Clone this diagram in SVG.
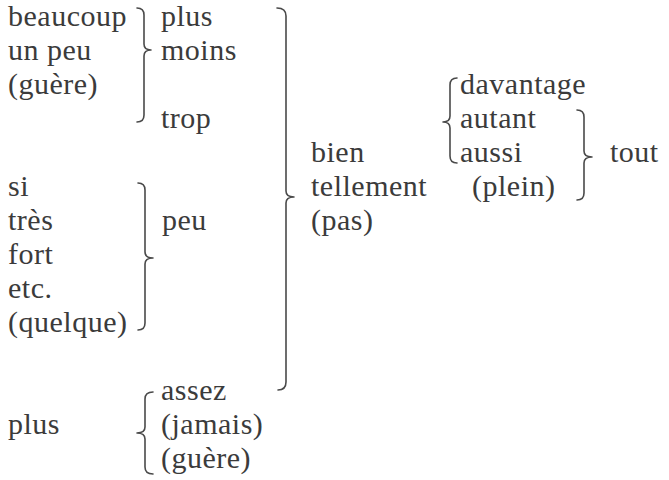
<svg xmlns="http://www.w3.org/2000/svg" width="669" height="480" viewBox="0 0 669 480">
<style>
text{font-size:30px;fill:#3b3b3b;letter-spacing:0.5px}
.br{fill:none;stroke:#4a4a4a;stroke-width:1.6;stroke-linecap:round;stroke-linejoin:round}
</style>
<rect width="669" height="480" fill="#ffffff"/>
<g id="connectors">
<path id="brace1" class="br" d="M137,8 Q144,8 144,15 L144,44 Q144,50 151,50 Q144,50 144,56 L144,115 Q144,122 137,122"/>
<path id="brace2" class="br" d="M138,183 Q145,183 145,190 L145,252 Q145,258 153,258 Q145,258 145,264 L145,323 Q145,330 138,330"/>
<path id="brace3" class="br" d="M277,8 Q286,8 286,16 L286,191 Q286,197 294,197 Q286,197 286,203 L286,382 Q286,390 278,390"/>
<path id="brace4" class="br" d="M457,78 Q450,78 450,85 L450,116 Q450,122 443,122 Q450,122 450,128 L450,156 Q450,163 457,163"/>
<path id="brace5" class="br" d="M577,110 Q584,110 584,117 L584,151 Q584,157 592,157 Q584,157 584,163 L584,193 Q584,200 577,200"/>
<path id="brace6" class="br" d="M153,392 Q145,392 145,399 L145,427 Q145,433 137,433 Q145,433 145,439 L145,467 Q145,474 153,474"/>
</g>
<g font-family="Liberation Serif, Times New Roman, DejaVu Serif, serif">
<g id="group1">
<text x="8" y="26">beaucoup</text>
<text x="8" y="60">un peu</text>
<text x="8" y="94">(guère)</text>
</g>
<g id="group1b">
<text x="161" y="26">plus</text>
<text x="161" y="60">moins</text>
<text x="161" y="128">trop</text>
</g>
<g id="group2">
<text x="8" y="196">si</text>
<text x="8" y="230">très</text>
<text x="8" y="264">fort</text>
<text x="8" y="298">etc.</text>
<text x="8" y="332">(quelque)</text>
</g>
<g id="peu"><text x="162" y="230">peu</text></g>
<g id="group3">
<text x="311" y="162">bien</text>
<text x="311" y="196">tellement</text>
<text x="311" y="230">(pas)</text>
</g>
<g id="group4">
<text x="460" y="94">davantage</text>
<text x="460" y="128">autant</text>
<text x="460" y="162">aussi</text>
<text x="472" y="196">(plein)</text>
</g>
<g id="tout"><text x="610" y="162">tout</text></g>
<g id="group5"><text x="8" y="434">plus</text></g>
<g id="group6">
<text x="161" y="400">assez</text>
<text x="161" y="434">(jamais)</text>
<text x="161" y="468">(guère)</text>
</g>
</g>
</svg>
